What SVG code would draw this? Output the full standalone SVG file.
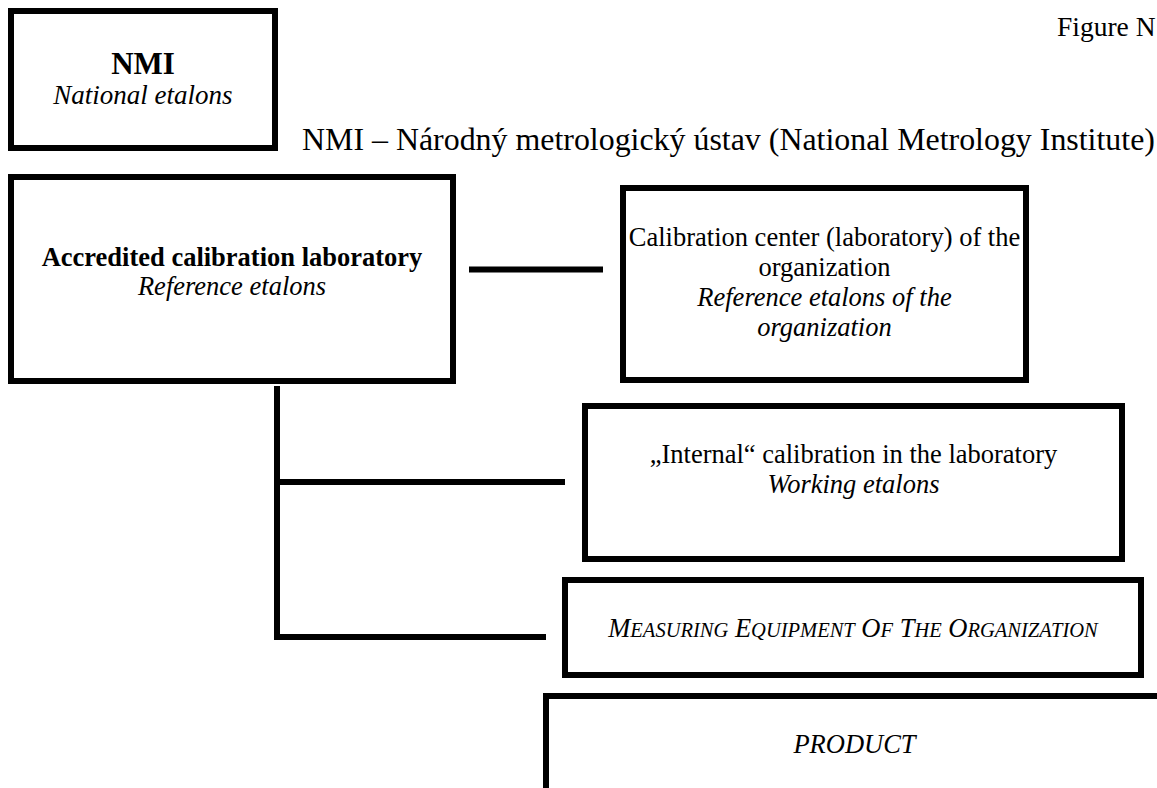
<svg xmlns="http://www.w3.org/2000/svg" width="1157" height="788" viewBox="0 0 1157 788">
<style>
.box{fill:#fff;stroke:#000;stroke-width:6}
.con{fill:none;stroke:#000;stroke-width:6}
text{font-family:"Liberation Serif","Times New Roman",serif;fill:#000;font-size:26.5px}
.c{text-anchor:middle}
.b{font-weight:bold}
.i{font-style:italic}
</style>
<rect width="1157" height="788" fill="#fff"/>
<text x="1057" y="36" style="font-size:27.5px">Figure N</text>
<text x="302" y="150" style="font-size:31.9px">NMI – Národný metrologický ústav (National Metrology Institute)</text>
<g id="connectors">
<path class="con" d="M469 269.5H603"/>
<path class="con" d="M277 386V637H546"/>
<path class="con" d="M277 482H565"/>
</g>
<g id="nmi">
<rect class="box" x="11" y="11" width="264" height="137"/>
<text class="c b" x="143" y="74" style="font-size:31px">NMI</text>
<text class="c i" x="143" y="104" style="font-size:27px">National etalons</text>
</g>
<g id="accredited">
<rect class="box" x="11" y="177" width="442" height="204"/>
<text class="c b" x="232" y="266">Accredited calibration laboratory</text>
<text class="c i" x="232" y="295">Reference etalons</text>
</g>
<g id="calibration-center">
<rect class="box" x="623" y="188" width="403" height="192"/>
<text class="c" x="824.5" y="246">Calibration center (laboratory) of the</text>
<text class="c" x="824.5" y="276">organization</text>
<text class="c i" x="824.5" y="306">Reference etalons of the</text>
<text class="c i" x="824.5" y="336">organization</text>
</g>
<g id="internal">
<rect class="box" x="585" y="406" width="537" height="153"/>
<text class="c" x="853.5" y="463">„Internal“ calibration in the laboratory</text>
<text class="c i" x="853.5" y="493">Working etalons</text>
</g>
<g id="measuring">
<rect class="box" x="565" y="580" width="576" height="95"/>
<text class="c i" x="853" y="637">M<tspan font-size="20.5">EASURING</tspan> E<tspan font-size="20.5">QUIPMENT</tspan> O<tspan font-size="20.5">F</tspan> T<tspan font-size="20.5">HE</tspan> O<tspan font-size="20.5">RGANIZATION</tspan></text>
</g>
<g id="product">
<rect class="box" x="546" y="696" width="700" height="200"/>
<text class="c i" x="854.5" y="753">PRODUCT</text>
</g>
</svg>
